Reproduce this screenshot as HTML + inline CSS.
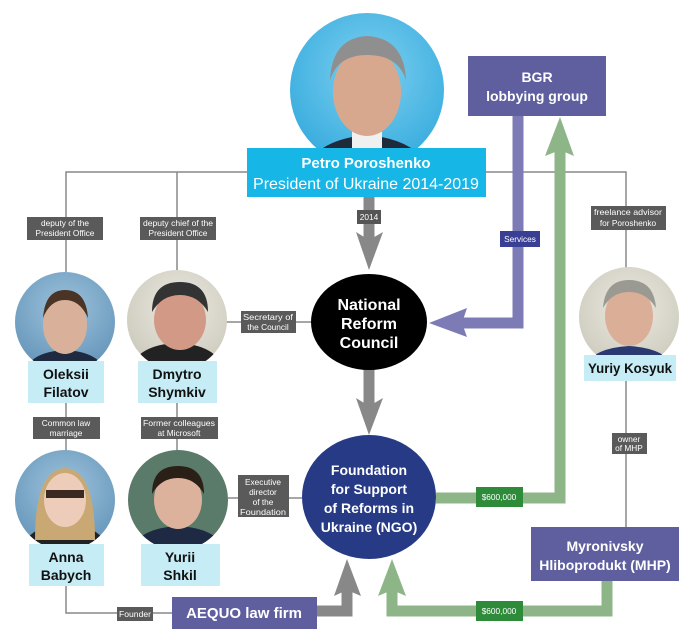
<!DOCTYPE html>
<html><head><meta charset="utf-8"><style>
html,body{margin:0;padding:0;background:#fff;}
svg{display:block;}
text{font-family:"Liberation Sans",sans-serif;}
.lb{font-size:8.3px;fill:#fff;}
.nm{font-size:14px;font-weight:bold;fill:#111;}
.wt{font-weight:bold;fill:#fff;}
</style></head><body>
<svg width="690" height="644" viewBox="0 0 690 644" xmlns="http://www.w3.org/2000/svg">
<defs>
<radialGradient id="gb" cx="50%" cy="40%" r="60%"><stop offset="0" stop-color="#9ec3dc"/><stop offset="1" stop-color="#5d8fb5"/></radialGradient>
<radialGradient id="gl" cx="50%" cy="40%" r="60%"><stop offset="0" stop-color="#eceae2"/><stop offset="1" stop-color="#c9c6b8"/></radialGradient>
<radialGradient id="gp" cx="50%" cy="40%" r="60%"><stop offset="0" stop-color="#7fd0f0"/><stop offset="1" stop-color="#2fa8dc"/></radialGradient>
<clipPath id="c1"><circle cx="367" cy="90" r="77"/></clipPath>
<clipPath id="c2"><circle cx="65" cy="322" r="50"/></clipPath>
<clipPath id="c3"><circle cx="177" cy="320" r="50"/></clipPath>
<clipPath id="c4"><circle cx="629" cy="317" r="50"/></clipPath>
<clipPath id="c5"><circle cx="65" cy="500" r="50"/></clipPath>
<clipPath id="c6"><circle cx="178" cy="500" r="50"/></clipPath>
</defs>

<g stroke="#888" stroke-width="1.5" fill="none">
<polyline points="66,272 66,172 626,172 626,270"/>
<line x1="177" y1="172" x2="177" y2="272"/>
<line x1="66" y1="403" x2="66" y2="452"/>
<line x1="177" y1="403" x2="177" y2="452"/>
<line x1="226" y1="322" x2="312" y2="322"/>
<line x1="228" y1="498" x2="302" y2="498"/>
<polyline points="66,586 66,613 172,613"/>
<line x1="626" y1="381" x2="626" y2="528"/>
</g>

<g clip-path="url(#c1)">
<rect x="280" y="0" width="180" height="180" fill="url(#gp)"/>
<path d="M300,180 Q310,140 367,135 Q424,140 434,180Z" fill="#1f2a3a"/>
<rect x="352" y="120" width="30" height="30" fill="#f0f0f0"/>
<ellipse cx="367" cy="92" rx="34" ry="44" fill="#d8a88e"/>
<path d="M330,80 Q332,38 367,36 Q404,38 406,80 Q398,55 367,55 Q338,55 330,80Z" fill="#8f8f8f"/>
</g>

<rect x="247" y="148" width="239" height="49" fill="#16b6e6"/>
<text x="366" y="168" text-anchor="middle" class="wt" font-size="15">Petro Poroshenko</text>
<text x="366" y="189" text-anchor="middle" fill="#fff" font-size="16">President of Ukraine 2014-2019</text>

<rect x="468" y="56" width="138" height="60" fill="#5f5fa0"/>
<text x="537" y="82" text-anchor="middle" class="wt" font-size="14">BGR</text>
<text x="537" y="101" text-anchor="middle" class="wt" font-size="14">lobbying group</text>

<polyline points="518,116 518,323 462,323" fill="none" stroke="#7d7bb5" stroke-width="11"/>
<polygon points="429,323 467,308 462,323 467,337" fill="#7d7bb5"/>
<rect x="500" y="231" width="40" height="16" fill="#3a3f96"/>
<text x="520" y="242" text-anchor="middle" class="lb">Services</text>

<polyline points="436,498 560,498 560,150" fill="none" stroke="#8db588" stroke-width="11"/>
<polygon points="560,117 545,156 560,150 574,156" fill="#8db588"/>
<polyline points="607,581 607,611 392,611 392,590" fill="none" stroke="#8db588" stroke-width="11"/>
<polygon points="392,559 378,596 392,590 406,596" fill="#8db588"/>
<rect x="476" y="487" width="47" height="20" fill="#2e8b3a"/>
<text x="499" y="500" text-anchor="middle" class="lb">$600,000</text>
<rect x="476" y="601" width="47" height="20" fill="#2e8b3a"/>
<text x="499" y="614" text-anchor="middle" class="lb">$600,000</text>

<line x1="369" y1="197" x2="369" y2="240" stroke="#888" stroke-width="11"/>
<polygon points="369,270 356,232 369,240 383,232" fill="#888"/>
<rect x="357" y="210" width="24" height="14" fill="#555"/>
<text x="369" y="220" text-anchor="middle" class="lb">2014</text>
<line x1="369" y1="368" x2="369" y2="410" stroke="#888" stroke-width="11"/>
<polygon points="369,435 356,398 369,406 383,398" fill="#888"/>
<polyline points="317,611 347,611 347,590" fill="none" stroke="#888" stroke-width="11"/>
<polygon points="347,559 334,596 347,590 361,596" fill="#888"/>

<ellipse cx="369" cy="322" rx="58" ry="48" fill="#000"/>
<text x="369" y="310" text-anchor="middle" class="wt" font-size="16">National</text>
<text x="369" y="329" text-anchor="middle" class="wt" font-size="16">Reform</text>
<text x="369" y="348" text-anchor="middle" class="wt" font-size="16">Council</text>

<ellipse cx="369" cy="497" rx="67" ry="62" fill="#263a86"/>
<text x="369" y="475" text-anchor="middle" class="wt" font-size="14">Foundation</text>
<text x="369" y="494" text-anchor="middle" class="wt" font-size="14">for Support</text>
<text x="369" y="513" text-anchor="middle" class="wt" font-size="14">of Reforms in</text>
<text x="369" y="532" text-anchor="middle" class="wt" font-size="14">Ukraine (NGO)</text>

<g clip-path="url(#c2)"><rect x="0" y="260" width="130" height="120" fill="url(#gb)"/><path d="M25,372 Q30,352 65,350 Q100,352 105,372Z" fill="#1d2a40"/><ellipse cx="65" cy="325" rx="22" ry="29" fill="#d9b19a"/><path d="M43,318 Q45,290 65,290 Q86,290 88,318 Q80,300 65,300 Q50,300 43,318Z" fill="#4a3426"/></g>
<g clip-path="url(#c3)"><rect x="120" y="260" width="120" height="120" fill="url(#gl)"/><path d="M130,372 Q135,345 177,343 Q219,345 224,372Z" fill="#222"/><ellipse cx="180" cy="320" rx="26" ry="30" fill="#d29a86"/><path d="M152,312 Q152,282 180,282 Q208,282 208,312 Q198,295 180,295 Q162,295 152,312Z" fill="#333"/></g>
<g clip-path="url(#c4)"><rect x="570" y="260" width="120" height="120" fill="url(#gl)"/><path d="M580,372 Q590,348 629,346 Q668,348 678,372Z" fill="#2a3a70"/><ellipse cx="629" cy="316" rx="24" ry="30" fill="#dbae98"/><path d="M603,308 Q605,280 629,280 Q654,280 656,308 Q646,292 629,292 Q612,292 603,308Z" fill="#9a9a92"/></g>
<g clip-path="url(#c5)"><rect x="0" y="440" width="130" height="120" fill="url(#gb)"/><path d="M20,550 Q30,525 65,523 Q100,525 110,550Z" fill="#222"/><path d="M35,540 Q35,470 65,468 Q95,470 95,540Z" fill="#c9a873"/><ellipse cx="65" cy="500" rx="21" ry="27" fill="#edcdb9"/><rect x="46" y="490" width="38" height="8" fill="#3a2a22"/></g>
<g clip-path="url(#c6)"><rect x="120" y="440" width="120" height="120" fill="#5a7a6a"/><path d="M130,550 Q140,528 178,526 Q216,528 226,550Z" fill="#1e2a44"/><ellipse cx="178" cy="500" rx="24" ry="29" fill="#ddb29c"/><path d="M152,494 Q152,466 178,466 Q204,466 204,494 Q195,478 178,478 Q161,478 152,494Z" fill="#2a2018"/></g>

<rect x="28" y="361" width="76" height="42" fill="#c6ecf6"/>
<text x="66" y="379" text-anchor="middle" class="nm">Oleksii</text>
<text x="66" y="397" text-anchor="middle" class="nm">Filatov</text>
<rect x="138" y="361" width="79" height="42" fill="#c6ecf6"/>
<text x="177" y="379" text-anchor="middle" class="nm">Dmytro</text>
<text x="177" y="397" text-anchor="middle" class="nm">Shymkiv</text>
<rect x="584" y="355" width="92" height="26" fill="#c6ecf6"/>
<text x="630" y="373" text-anchor="middle" class="nm" font-size="13" textLength="84" lengthAdjust="spacingAndGlyphs">Yuriy Kosyuk</text>
<rect x="29" y="544" width="75" height="42" fill="#c6ecf6"/>
<text x="66" y="562" text-anchor="middle" class="nm">Anna</text>
<text x="66" y="580" text-anchor="middle" class="nm">Babych</text>
<rect x="141" y="544" width="79" height="42" fill="#c6ecf6"/>
<text x="180" y="562" text-anchor="middle" class="nm">Yurii</text>
<text x="180" y="580" text-anchor="middle" class="nm">Shkil</text>

<g fill="#5a5a5a">
<rect x="27" y="217" width="76" height="23"/>
<rect x="140" y="217" width="76" height="23"/>
<rect x="591" y="206" width="75" height="24"/>
<rect x="241" y="311" width="55" height="22"/>
<rect x="33" y="417" width="67" height="22"/>
<rect x="141" y="417" width="77" height="22"/>
<rect x="612" y="433" width="35" height="21"/>
<rect x="238" y="475" width="51" height="42"/>
<rect x="117" y="607" width="36" height="14"/>
</g>
<text x="65" y="226" text-anchor="middle" class="lb">deputy of the</text>
<text x="65" y="236" text-anchor="middle" class="lb">President Office</text>
<text x="178" y="226" text-anchor="middle" class="lb" textLength="70" lengthAdjust="spacingAndGlyphs">deputy chief of the</text>
<text x="178" y="236" text-anchor="middle" class="lb">President Office</text>
<text x="628" y="215" text-anchor="middle" class="lb" textLength="68" lengthAdjust="spacingAndGlyphs">freelance advisor</text>
<text x="628" y="226" text-anchor="middle" class="lb">for Poroshenko</text>
<text x="268" y="320" text-anchor="middle" class="lb" textLength="50" lengthAdjust="spacingAndGlyphs">Secretary of</text>
<text x="268" y="330" text-anchor="middle" class="lb">the Council</text>
<text x="66" y="426" text-anchor="middle" class="lb">Common law</text>
<text x="66" y="436" text-anchor="middle" class="lb">marriage</text>
<text x="179" y="426" text-anchor="middle" class="lb" textLength="72" lengthAdjust="spacingAndGlyphs">Former colleagues</text>
<text x="179" y="436" text-anchor="middle" class="lb">at Microsoft</text>
<text x="629" y="442" text-anchor="middle" class="lb">owner</text>
<text x="629" y="451" text-anchor="middle" class="lb">of MHP</text>
<text x="263" y="485" text-anchor="middle" class="lb">Executive</text>
<text x="263" y="495" text-anchor="middle" class="lb">director</text>
<text x="263" y="505" text-anchor="middle" class="lb">of the</text>
<text x="263" y="515" text-anchor="middle" class="lb" textLength="46" lengthAdjust="spacingAndGlyphs">Foundation</text>
<text x="135" y="617" text-anchor="middle" class="lb" textLength="32" lengthAdjust="spacingAndGlyphs">Founder</text>

<rect x="172" y="597" width="145" height="32" fill="#5f5fa0"/>
<text x="244" y="618" text-anchor="middle" class="wt" font-size="15">AEQUO law firm</text>
<rect x="531" y="527" width="148" height="54" fill="#5f5fa0"/>
<text x="605" y="551" text-anchor="middle" class="wt" font-size="14">Myronivsky</text>
<text x="605" y="570" text-anchor="middle" class="wt" font-size="14">Hliboprodukt (MHP)</text>
</svg>
</body></html>
